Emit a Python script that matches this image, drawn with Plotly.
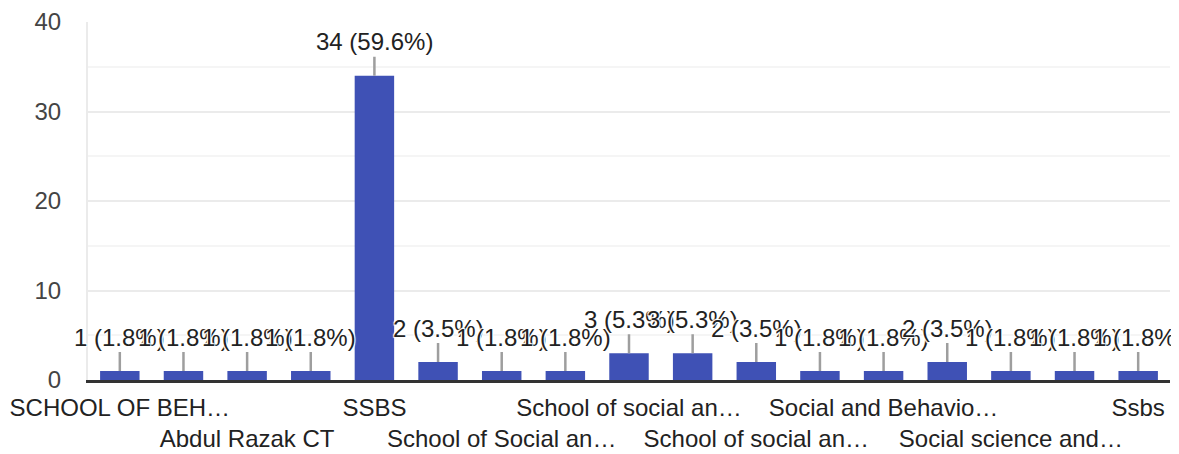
import plotly.graph_objects as go

# Category labels as shown on the axis (odd positions have no visible label)
categories = [
    "SCHOOL OF BEH…", "", "Abdul Razak CT", "", "SSBS", "",
    "School of Social an…", "", "School of social an…", "",
    "School of social an…", "", "Social and Behavio…", "",
    "Social science and…", "", "Ssbs",
]
counts = [1, 1, 1, 1, 34, 2, 1, 1, 3, 3, 2, 1, 1, 2, 1, 1, 1]
y_ticks = [0, 10, 20, 30, 40]

total = sum(counts)
xs = list(range(len(counts)))

FONT = "Liberation Sans, Arial, sans-serif"
BAR = "#3f51b5"

fig = go.Figure()
fig.add_trace(go.Bar(x=xs, y=counts, marker=dict(color=BAR, line=dict(width=0)),
                     hoverinfo="skip"))

# data labels with stems
for i, v in enumerate(counts):
    pct = 100.0 * v / total
    fig.add_annotation(
        x=i, y=v, xref="x", yref="y",
        text=f"{v} ({pct:.1f}%)",
        showarrow=True, arrowhead=0, arrowwidth=2.5, arrowcolor="#9e9e9e",
        ax=0, ay=-34,
        font=dict(family=FONT, size=24, color="#222222",
                  shadow="1px 1px 1px white, -1px -1px 1px white, 1px -1px 1px white, -1px 1px 1px white"),
    )

# alternating two-row tick labels
tickvals, ticktext = [], []
row = 0
for i, lab in enumerate(categories):
    if lab:
        tickvals.append(i)
        ticktext.append(lab if row % 2 == 0 else "<br>" + lab)
        row += 1

# the page body adds an 8px offset, so the figure is sized to fit the window
fig.update_layout(
    width=1171, height=446,
    margin=dict(l=80, r=9, t=14, b=74),
    paper_bgcolor="white", plot_bgcolor="white",
    bargap=0.38, showlegend=False,
    font=dict(family=FONT, size=24, color="#222222"),
)
fig.update_xaxes(
    range=[-0.5, len(counts) - 0.5], automargin=False,
    tickmode="array", tickvals=tickvals, ticktext=ticktext,
    tickangle=0, ticks="", ticklabelstandoff=4,
    tickfont=dict(family=FONT, size=24, color="#222222"),
    showgrid=False, zeroline=False,
    showline=True, linecolor="#333333", linewidth=3,
    fixedrange=True,
)
fig.update_yaxes(
    range=[0, 40], tickmode="array", tickvals=y_ticks, automargin=False,
    tickfont=dict(family=FONT, size=24, color="#444444"),
    ticks="", ticklabelstandoff=20,
    showgrid=True, gridcolor="#ebebeb", gridwidth=2,
    minor=dict(dtick=5, showgrid=True, gridcolor="#f5f5f5", gridwidth=2),
    zeroline=False, showline=True, linecolor="#ebebeb", linewidth=2,
    fixedrange=True,
)

fig.write_html("out.html")
